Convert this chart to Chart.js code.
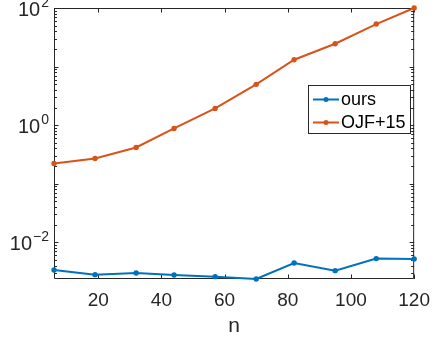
<!DOCTYPE html>
<html>
<head>
<meta charset="utf-8">
<script src="https://cdn.jsdelivr.net/npm/chart.js@4/dist/chart.umd.min.js"></script>
<style>
  html, body { margin: 0; padding: 0; background: #fff; }
  #wrap { width: 440px; height: 339px; }
</style>
</head>
<body>
<div id="wrap"><canvas id="chart"></canvas></div>
<script>
(function () {
  const n = [6, 19, 32, 44, 57, 70, 82, 95, 108, 120];
  const ours = [0.00336, 0.0028, 0.00299, 0.00276, 0.00259, 0.00236, 0.00443, 0.00328, 0.00526, 0.00518];
  const ojf = [0.221, 0.27, 0.416, 0.877, 1.93, 4.97, 13.1, 24.5, 53.2, 100];
  const xTicks = [20, 40, 60, 80, 100, 120];
  const yExps = [-2, 0, 2];

  const axisColor = "#262626";
  const font = "Liberation Sans, Arial, Helvetica, sans-serif";

  const pts = (ys) => n.map((x, i) => ({ x: x, y: ys[i] }));

  // MATLAB-like box, inward ticks, 10^k labels and legend
  const boxPlugin = {
    id: "box",
    beforeDatasetsDraw(chart) {
      const ctx = chart.ctx;
      const a = chart.chartArea;
      const xs = chart.scales.x;
      const ys = chart.scales.y;
      ctx.save();
      ctx.strokeStyle = axisColor;
      ctx.lineWidth = 1;
      ctx.beginPath();
      ctx.rect(a.left + 0.5, a.top + 0.5, a.right - a.left - 1, a.bottom - a.top - 1);
      ctx.stroke();

      ctx.beginPath();
      xTicks.forEach((v) => {
        const px = Math.round(xs.getPixelForValue(v)) + 0.5;
        ctx.moveTo(px, a.bottom); ctx.lineTo(px, a.bottom - 4.5);
        ctx.moveTo(px, a.top); ctx.lineTo(px, a.top + 4.5);
      });
      for (let e = -3; e <= 2; e++) {
        for (let k = 1; k <= 9; k++) {
          const v = k * Math.pow(10, e);
          if (v < ys.min * 0.999 || v > ys.max * 1.001) continue;
          const py = Math.round(ys.getPixelForValue(v)) + 0.5;
          const len = k === 1 ? 4.5 : 3;
          ctx.moveTo(a.left, py); ctx.lineTo(a.left + len, py);
          ctx.moveTo(a.right, py); ctx.lineTo(a.right - len, py);
        }
      }
      ctx.stroke();

      // y tick labels 10^k
      ctx.fillStyle = axisColor;
      ctx.textBaseline = "alphabetic";
      yExps.forEach((e) => {
        const py = ys.getPixelForValue(Math.pow(10, e));
        const expText = e < 0 ? "\u2212" + Math.abs(e) : String(e);
        ctx.font = "14px " + font;
        const ew = ctx.measureText(expText).width;
        ctx.font = "20px " + font;
        const bw = ctx.measureText("10").width;
        const right = 49;
        ctx.textAlign = "left";
        ctx.fillText("10", right - ew - bw - 1, py + 8);
        ctx.font = "14px " + font;
        ctx.fillText(expText, right - ew, py - 1);
      });
      ctx.restore();
    },
    afterDatasetsDraw(chart) {
      const ctx = chart.ctx;
      ctx.save();
      // legend
      const lx = 308.5, ly = 85.5, lw = 102, lh = 48;
      ctx.fillStyle = "#fff";
      ctx.fillRect(lx, ly, lw, lh);
      ctx.strokeStyle = axisColor;
      ctx.lineWidth = 1;
      ctx.strokeRect(lx, ly, lw, lh);
      const rows = [99.5, 122.5];
      chart.data.datasets.forEach((ds, i) => {
        const y = rows[i];
        ctx.strokeStyle = ds.borderColor;
        ctx.lineWidth = 2;
        ctx.beginPath();
        ctx.moveTo(313, y); ctx.lineTo(339, y);
        ctx.stroke();
        ctx.fillStyle = ds.borderColor;
        ctx.beginPath();
        ctx.arc(326, y, 2.5, 0, Math.PI * 2);
        ctx.fill();
        ctx.fillStyle = "#000";
        ctx.font = "18px " + font;
        ctx.textAlign = "left";
        ctx.textBaseline = "middle";
        ctx.fillText(ds.label, 341, y + 1);
      });
      ctx.restore();
    },
  };

  new Chart(document.getElementById("chart"), {
    type: "line",
    data: {
      datasets: [
        {
          label: "ours",
          data: pts(ours),
          borderColor: "#0072BD",
          backgroundColor: "#0072BD",
          borderWidth: 2,
          pointRadius: 2.7,
          pointBorderWidth: 0,
          tension: 0,
          clip: false,
        },
        {
          label: "OJF+15",
          data: pts(ojf),
          borderColor: "#D95319",
          backgroundColor: "#D95319",
          borderWidth: 2,
          pointRadius: 2.7,
          pointBorderWidth: 0,
          tension: 0,
          clip: false,
        },
      ],
    },
    options: {
      responsive: true,
      maintainAspectRatio: false,
      animation: false,
      layout: { padding: { top: 8, right: 19, left: 0, bottom: 0 } },
      plugins: { legend: { display: false }, tooltip: { enabled: false } },
      scales: {
        x: {
          type: "linear",
          min: 6,
          max: 120,
          grid: { display: false, drawTicks: false },
          border: { display: false },
          afterBuildTicks: (s) => { s.ticks = xTicks.map((v) => ({ value: v })); },
          afterFit: (s) => { s.height = 60; },
          ticks: {
            color: axisColor,
            font: { family: font, size: 19 },
            padding: 10,
            maxRotation: 0,
          },
          title: {
            display: true,
            text: "n",
            color: axisColor,
            font: { family: font, size: 21 },
            padding: { top: 0, bottom: 0 },
          },
        },
        y: {
          type: "logarithmic",
          min: 0.00236,
          max: 100,
          grid: { display: false, drawTicks: false },
          border: { display: false },
          afterBuildTicks: (s) => { s.ticks = yExps.map((e) => ({ value: Math.pow(10, e) })); },
          afterFit: (s) => { s.width = 54; },
          ticks: { display: false },
        },
      },
    },
    plugins: [boxPlugin],
  });
})();
</script>
</body>
</html>
